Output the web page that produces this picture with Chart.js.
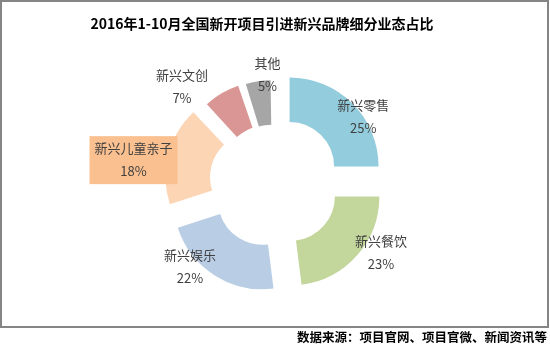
<!DOCTYPE html>
<html>
<head>
<meta charset="utf-8">
<script src="https://cdn.jsdelivr.net/npm/chart.js@4/dist/chart.umd.min.js"></script>
<style>
  html, body { margin: 0; padding: 0; background: #fff; }
  #wrap { width: 550px; height: 351px; }
</style>
</head>
<body>
<div id="wrap"><canvas id="pie" width="550" height="351"></canvas></div>
<script>
// data
const categories = ['新兴零售', '新兴餐饮', '新兴娱乐', '新兴儿童亲子', '新兴文创', '其他'];
const shares = [25, 23, 22, 18, 7, 5];
const colors = ['#93CDDD', '#C3D69B', '#B9CDE5', '#FCD5B5', '#D99694', '#A6A6A6'];
const titleText = '2016年1-10月全国新开项目引进新兴品牌细分业态占比';
const sourceText = '数据来源：项目官网、项目官微、新闻资讯等';

const EXPLODE = 22;   // how far each slice is pulled out
const LABEL_R = 112;
// small label nudges so they sit where excel put them
const labelNudge = [[10, 14], [23, -3], [-24, -10], [-32, 6], [-35, 1], [11, 4]];

const total = shares.reduce((a, b) => a + b, 0);

// chart.js translates an arc by offset/4*(1+fix); pick offset so every slice moves EXPLODE px
function sliceOffset(v) {
    const circ = v / total * Math.PI * 2;
    return 4 * EXPLODE / (2 - Math.sin(Math.min(Math.PI, circ)));
}

const explodeFix = {
    id: 'explodeFix',
    afterDatasetUpdate(chart, args) {
        args.meta.data.forEach(el => {
            const off = (el.options.offset || 0) / 4;
            const fix = 1 - Math.sin(Math.min(Math.PI, el.circumference));
            el.outerRadius -= off * fix;
            el.innerRadius -= off * fix;
        });
    }
};

const decor = {
    id: 'decor',
    beforeDraw(chart) {
        const ctx = chart.ctx;
        ctx.save();
        ctx.fillStyle = '#fff';
        ctx.fillRect(0, 0, chart.width, chart.height);
        ctx.strokeStyle = '#858585';
        ctx.lineWidth = 2;
        ctx.strokeRect(1, 1, 547, 326);
        ctx.restore();
    },
    afterDatasetsDraw(chart) {
        const ctx = chart.ctx;
        const meta = chart.getDatasetMeta(0);
        ctx.save();
        ctx.textAlign = 'center';
        ctx.textBaseline = 'middle';

        ctx.font = 'bold 14px "Noto Sans CJK SC"';
        ctx.fillStyle = '#000';
        ctx.fillText(titleText, 262, 24);

        ctx.font = '13px "Noto Sans CJK SC"';
        meta.data.forEach((el, i) => {
            const a = (el.startAngle + el.endAngle) / 2;
            const x = el.x + Math.cos(a) * LABEL_R + labelNudge[i][0];
            const y = el.y + Math.sin(a) * LABEL_R + labelNudge[i][1];
            if (i === 3) {
                const w = ctx.measureText(categories[i]).width + 10;
                ctx.fillStyle = '#FAC090';
                ctx.fillRect(x - w / 2, y - 24, w, 48);
            }
            ctx.fillStyle = '#404040';
            ctx.fillText(categories[i], x, y - 12);
            ctx.fillText(shares[i] + '%', x, y + 11);
        });

        ctx.textAlign = 'right';
        ctx.font = 'bold 12.5px "Noto Sans CJK SC"';
        ctx.fillStyle = '#000';
        ctx.fillText(sourceText, 547, 337);
        ctx.restore();
    }
};

new Chart(document.getElementById('pie'), {
    type: 'doughnut',
    data: {
        labels: categories,
        datasets: [{
            data: shares,
            backgroundColor: colors,
            borderWidth: 0,
            hoverBorderWidth: 0,
            hoverOffset: 0,
            offset: ctx => sliceOffset(ctx.raw)
        }]
    },
    options: {
        responsive: false,
        animation: false,
        events: [],
        cutout: '50%',
        layout: { padding: { left: 141, right: 143, top: 49, bottom: 36 } },
        plugins: {
            legend: { display: false },
            tooltip: { enabled: false }
        }
    },
    plugins: [explodeFix, decor]
});
</script>
</body>
</html>
